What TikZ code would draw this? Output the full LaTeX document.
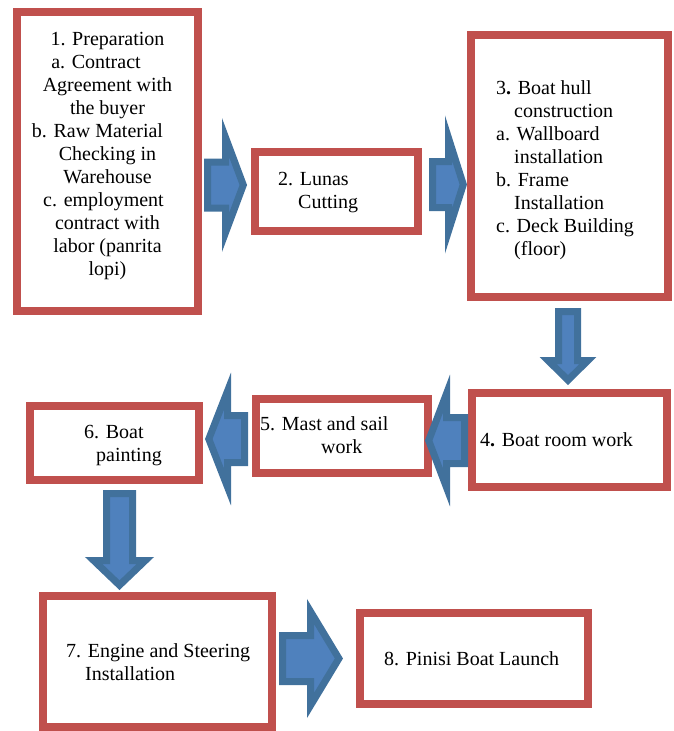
\documentclass[tikz,border=0pt]{standalone}
\usepackage{fontspec}
\setmainfont{Liberation Serif}
\usetikzlibrary{calc}

\definecolor{boxred}{HTML}{C0504D}
\definecolor{arrowfill}{HTML}{4F81BD}
\definecolor{arrowedge}{HTML}{41719C}

\tikzset{
	stage/.style = {draw = boxred, line width = 8pt, fill = white, inner sep = 0pt},
	stagetext/.style = {inner sep = 0pt, anchor = base west, font = \fontsize{20}{23}\selectfont},
	% block arrow: shaft half width, head half width, head length
	flowarrow/.style n args = {3}{draw = arrowedge, fill = arrowfill, line width = 7pt,
		to path = {let \p1 = (\tikztostart), \p2 = (\tikztotarget),
			\n1 = {veclen(\x2-\x1,\y2-\y1)}, \n2 = {atan2(\y2-\y1,\x2-\x1)} in
			{[shift = {(\p1)}, rotate = \n2]
				(0pt,#1pt) -- ({\n1*1pt-#3pt},#1pt) -- ({\n1*1pt-#3pt},#2pt)
				-- ({\n1*1pt},0pt) -- ({\n1*1pt-#3pt},-#2pt) -- ({\n1*1pt-#3pt},-#1pt)
				-- (0pt,-#1pt) -- cycle}}}
}

\begin{document}
\begin{tikzpicture}[x = 1pt, y = -1pt]
			\useasboundingbox (0,0) rectangle (674,731);
			
			% stages
			\node[stage, minimum width = 181, minimum height = 299] (b1) at (107.5,161.5) {};
			\node[stage, minimum width = 163, minimum height = 79] (b2) at (336.5,191.5) {};
			\node[stage, minimum width = 197, minimum height = 262] (b3) at (569.5,166) {};
			\node[stage, minimum width = 195, minimum height = 94] (b4) at (569.5,440) {};
			\node[stage, minimum width = 172, minimum height = 74] (b5) at (342,436) {};
			\node[stage, minimum width = 169, minimum height = 74] (b6) at (114.5,443) {};
			\node[stage, minimum width = 229, minimum height = 131] (b7) at (157.5,661.5) {};
			\node[stage, minimum width = 228, minimum height = 91] (b8) at (474,658.5) {};
			
			\node[stagetext, anchor = base] (t1) at (107.5,45) {\begin{tabular}[t]{@{}c@{}}
					1. Preparation\\
					a. Contract\hspace*{23pt}\\
					Agreement with\\
					the buyer\\
					b. Raw Material\hspace*{20pt}\\
					Checking in\\
					Warehouse\\
					c. employment\hspace*{8pt}\\
					contract with\\
					labor (panrita\\
					lopi)
				\end{tabular}};
			\node[stagetext] (t2) at (278,185) {\begin{tabular}[t]{@{}l@{}}
					2. Lunas\\
					\hspace*{20pt}Cutting
				\end{tabular}};
			\node[stagetext] (t3) at (496,94) {\begin{tabular}[t]{@{}l@{}}
					3\textbf{.} Boat hull\\
					\hspace*{18pt}construction\\
					a. Wallboard\\
					\hspace*{18pt}installation\\
					b. Frame\\
					\hspace*{18pt}Installation\\
					c. Deck Building\\
					\hspace*{18pt}(floor)
				\end{tabular}};
			\node[stagetext] (t4) at (480,446) {4\textbf{.} Boat room work};
			\node[stagetext] (t5) at (260,430) {\begin{tabular}[t]{@{}l@{}}
					5. Mast and sail\\
					\hspace*{61pt}work
				\end{tabular}};
			\node[stagetext] (t6) at (84,438) {\begin{tabular}[t]{@{}l@{}}
					6. Boat\\
					\hspace*{12pt}painting
				\end{tabular}};
			\node[stagetext] (t7) at (66,657) {\begin{tabular}[t]{@{}l@{}}
					7. Engine and Steering\\
					\hspace*{19pt}Installation
				\end{tabular}};
			\node[stagetext] (t8) at (384,665) {8. Pinisi Boat Launch};
			
			% arrows
			\draw[flowarrow = {23}{47.6}{17.8}] ($(b1.east |- 0,185)+(5.5,0)$) to ($(b2.west |- 0,185)+(-7.7,0)$);
			\draw[flowarrow = {23}{46.5}{14.8}] ($(b2.east |- 0,184.5)+(10.5,0)$) to ($(b3.west |- 0,184.5)+(-3.7,0)$);
			\draw[flowarrow = {9.5}{19.9}{19.6}] ($(b3.south -| 568,0)+(0,10.5)$) to ($(b4.north -| 568,0)+(0,-8.9)$);
			\draw[flowarrow = {23}{46.9}{17.8}] ($(b4.west |- 0,440.5)+(-3.5,0)$) to ($(b5.east |- 0,440.5)+(-3.3,0)$);
			\draw[flowarrow = {23.5}{47.9}{18.7}] ($(b5.west |- 0,439)+(-7.5,0)$) to ($(b6.east |- 0,439)+(5.8,0)$);
			\draw[flowarrow = {13}{25.8}{24.7}] ($(b6.south -| 119.5,0)+(0,9.5)$) to ($(b7.north -| 119.5,0)+(0,-6.8)$);
			\draw[flowarrow = {23}{47}{28.4}] ($(b7.east |- 0,658.5)+(6.5,0)$) to ($(b8.west |- 0,658.5)+(-17.1,0)$);
			
		\end{tikzpicture}
\end{document}
